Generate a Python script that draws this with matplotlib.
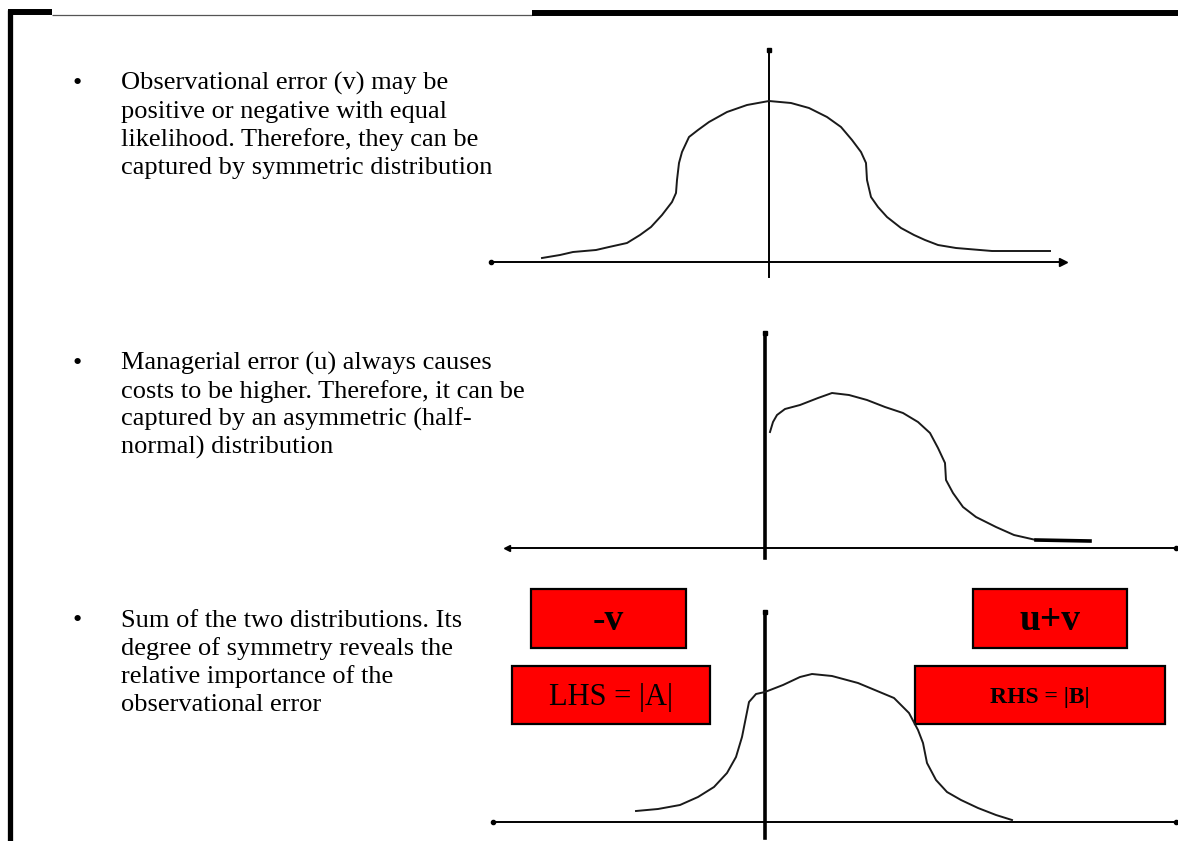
import matplotlib
matplotlib.use("Agg")
import matplotlib.pyplot as plt
from matplotlib.patches import Rectangle

W, H, DPI = 1178, 841, 100

# ---------------- text content ----------------
block_1 = ["Observational error (v) may be",
           "positive or negative with equal",
           "likelihood. Therefore, they can be",
           "captured by symmetric distribution"]
block_2 = ["Managerial error (u) always causes",
           "costs to be higher. Therefore, it can be",
           "captured by an asymmetric (half-",
           "normal) distribution"]
block_3 = ["Sum of the two distributions. Its",
           "degree of symmetry reveals the",
           "relative importance of the",
           "observational error"]

# ---------------- curve values (offset from vertical axis, height above x-axis) ----------------
v_x = [-227, -209, -196, -173, -160, -142, -129, -118, -107, -97, -93, -92, -90,
       -87, -80, -71, -60, -42, -22, 0, 22, 40, 58, 72, 83, 92, 97, 98, 102,
       109, 118, 132, 145, 156, 169, 187, 223, 281]
v_y = [4, 7, 10, 12, 15, 19, 27, 35, 47, 60, 69, 82, 99,
       110, 125, 132, 140, 150, 157, 161, 159, 154, 145, 135, 122, 110, 99, 82, 65,
       55, 45, 34, 27, 22, 17, 14, 11, 11]

u_x = [5, 8, 12, 20, 35, 53, 67, 84, 102, 120, 138, 153, 165, 173, 180, 181,
       188, 198, 211, 231, 249, 271, 325]
u_y = [116, 126, 133, 139, 143, 150, 155, 153, 148, 141, 135, 126, 115, 100, 85, 68,
       55, 41, 31, 21, 13, 8, 7]

s_x = [-129, -107, -85, -67, -51, -38, -29, -23, -19, -16, -9, 0, 18, 35, 47,
       67, 93, 129, 144, 153, 158, 162, 171, 182, 196, 213, 231, 247]
s_y = [11, 13, 17, 25, 35, 49, 65, 85, 105, 120, 128, 130, 137, 145, 148,
       146, 139, 124, 109, 92, 79, 59, 42, 30, 22, 14, 7, 2]

box_labels = ["-v", "u+v", "LHS = |A|", "RHS = |B|"]

# ---------------- figure ----------------
fig = plt.figure(figsize=(W / DPI, H / DPI), dpi=DPI)
fig.patch.set_facecolor("white")

base = fig.add_axes([0, 0, 1, 1])
base.set_xlim(0, W)
base.set_ylim(H, 0)
base.axis("off")

# frame
base.plot([10, 10], [10, H], color="black", lw=3.8, solid_capstyle="butt")
base.plot([8, 52], [12, 12], color="black", lw=4.3, solid_capstyle="butt")
base.plot([52, 532], [14.5, 14.5], color="#555555", lw=0.9, solid_capstyle="butt")
base.plot([532, W], [12.5, 12.5], color="black", lw=4.3, solid_capstyle="butt")

FONT = "Liberation Serif"
text_x, bullet_x, step = 121, 73, 28
for lines, b0 in zip([block_1, block_2, block_3], [90, 370, 627]):
    base.text(bullet_x, b0, "\u2022", fontsize=19, family=FONT, va="baseline", ha="left")
    for i, ln in enumerate(lines):
        base.text(text_x, b0 + i * step, ln, fontsize=19, family=FONT,
                  va="baseline", ha="left", color="black")

# red label boxes: (x0, x1, y0, y1), fontsize, weight
box_geom = [((531, 686, 589, 648), 27, "bold"),
            ((973, 1127, 589, 648), 27, "bold"),
            ((512, 710, 666, 724), 22, "normal"),
            ((915, 1165, 666, 724), 17, "bold")]
for label, ((x0, x1, y0, y1), fs, wt) in zip(box_labels, box_geom):
    base.add_patch(Rectangle((x0, y0), x1 - x0, y1 - y0, facecolor="#ff0000",
                             edgecolor="black", lw=1.6, zorder=3))
    base.text((x0 + x1) / 2, (y0 + y1) / 2 + 2, label, fontsize=fs, weight=wt,
              family=FONT, ha="center", va="center", zorder=4)


def make_axes(ox, oy, xl, xr, yt, yb):
    ax = fig.add_axes([xl / W, 1 - yb / H, (xr - xl) / W, (yb - yt) / H])
    ax.set_xlim(xl - ox, xr - ox)
    ax.set_ylim(oy - yb, oy - yt)
    ax.axis("off")
    ax.patch.set_alpha(0)
    return ax


curve_kw = dict(color="#1a1a1a", lw=1.4, solid_joinstyle="round")

# plot 1: symmetric
ax1 = make_axes(769, 262, 491, 1063, 50, 277)
x0, x1 = ax1.get_xlim(); y0, y1 = ax1.get_ylim()
ax1.plot([x0, x1], [0, 0], color="black", lw=1.4, clip_on=False)
ax1.plot([0, 0], [y0, y1], color="black", lw=1.4, clip_on=False)
ax1.plot([x1], [0], marker=">", ms=6, color="black", clip_on=False)
ax1.plot([x0], [0], marker="o", ms=3, color="black", clip_on=False)
ax1.plot([0], [y1], marker="s", ms=3, color="black", clip_on=False)
ax1.plot(v_x, v_y, clip_on=False, **curve_kw)

# plot 2: half-normal
ax2 = make_axes(765, 548, 507, 1176, 333, 558)
x0, x1 = ax2.get_xlim(); y0, y1 = ax2.get_ylim()
ax2.plot([x0, x1], [0, 0], color="black", lw=1.4, clip_on=False)
ax2.plot([0, 0], [y0, y1], color="black", lw=2.6, clip_on=False)
ax2.plot([x0], [0], marker="<", ms=4, color="black", clip_on=False)
ax2.plot([x1], [0], marker="o", ms=3, color="black", clip_on=False)
ax2.plot([0], [y1], marker="s", ms=2.5, color="black", clip_on=False)
ax2.plot(u_x, u_y, clip_on=False, **curve_kw)
ax2.plot(u_x[-2:], u_y[-2:], color="black", lw=2.6, clip_on=False)

# plot 3: sum
ax3 = make_axes(765, 822, 493, 1176, 612, 838)
x0, x1 = ax3.get_xlim(); y0, y1 = ax3.get_ylim()
ax3.plot([x0, x1], [0, 0], color="black", lw=1.4, clip_on=False)
ax3.plot([0, 0], [y0, y1], color="black", lw=2.6, clip_on=False)
ax3.plot([x0], [0], marker="o", ms=3, color="black", clip_on=False)
ax3.plot([x1], [0], marker="o", ms=3, color="black", clip_on=False)
ax3.plot([0], [y1], marker="s", ms=2.5, color="black", clip_on=False)
ax3.plot(s_x, s_y, clip_on=False, **curve_kw)

fig.savefig("out.png", dpi=DPI, facecolor="white")
